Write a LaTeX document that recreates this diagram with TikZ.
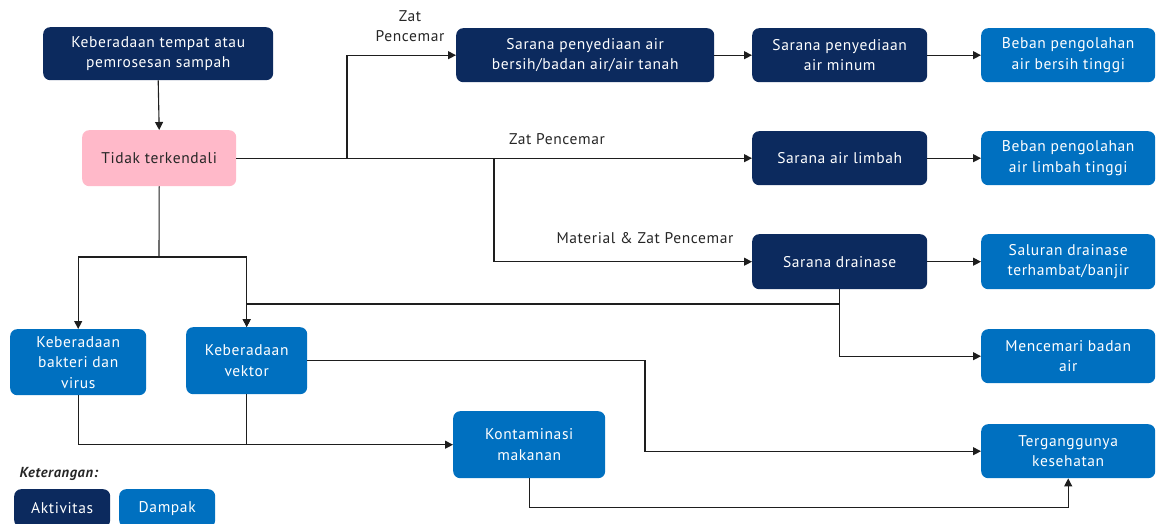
\documentclass[tikz,border=0pt]{standalone}
\usepackage{fontspec}
\setmainfont[LetterSpace=4]{PT Sans}
\usetikzlibrary{arrows.meta}
\definecolor{navy}{RGB}{12,42,94}
\definecolor{impact}{RGB}{0,112,192}
\definecolor{pinkbox}{RGB}{255,185,201}
\definecolor{linec}{RGB}{30,30,30}
\begin{document}
\begin{tikzpicture}[x=1pt,y=-1pt,
  box/.style={anchor=north west,rounded corners=7pt,inner sep=0pt,align=center,
    font=\fontsize{15.5}{20.5}\selectfont,text=white},
  act/.style={box,fill=navy},
  imp/.style={box,fill=impact},
  arr/.style={draw=linec,line width=1.1pt,-{Triangle[length=8pt,width=8pt]}},
  ln/.style={draw=linec,line width=1.1pt},
  lbl/.style={font=\fontsize{15.5}{20.5}\selectfont,text=black!85,align=center}]
\useasboundingbox (0,0) rectangle (1156,524);
\node[act,minimum width=230pt,minimum height=53pt] (a) at (43,27) {Keberadaan tempat atau\\pemrosesan sampah};
\node[box,fill=pinkbox,text=black!85,minimum width=154pt,minimum height=56pt] (b) at (82,130) {Tidak terkendali};
\node[act,minimum width=258pt,minimum height=54pt] (c) at (456,28) {Sarana penyediaan air\\bersih/badan air/air tanah};
\node[act,minimum width=175pt,minimum height=54pt] (d) at (752,28) {Sarana penyediaan\\air minum};
\node[imp,minimum width=174pt,minimum height=54pt] (e) at (981,28) {Beban pengolahan\\air bersih tinggi};
\node[act,minimum width=175pt,minimum height=54pt] (f) at (752,131) {Sarana air limbah};
\node[imp,minimum width=174pt,minimum height=54pt] (g) at (981,131) {Beban pengolahan\\air limbah tinggi};
\node[act,minimum width=175pt,minimum height=55pt] (h) at (752,234) {Sarana drainase};
\node[imp,minimum width=174pt,minimum height=55pt] (i) at (981,234) {Saluran drainase\\terhambat/banjir};
\node[imp,minimum width=174pt,minimum height=54pt] (j) at (981,329) {Mencemari badan\\air};
\node[imp,minimum width=174pt,minimum height=54pt] (k) at (981,424) {Terganggunya\\kesehatan};
\node[imp,minimum width=136pt,minimum height=66pt] (l) at (10,329) {Keberadaan\\bakteri dan\\virus};
\node[imp,minimum width=121pt,minimum height=67pt] (m) at (186,327) {Keberadaan\\vektor};
\node[imp,minimum width=152pt,minimum height=67pt] (n) at (453,411) {Kontaminasi\\makanan};
% legend
\node[anchor=west,font=\fontsize{14.5}{16}\selectfont\bfseries\itshape,text=black!85] (kt) at (16,474) {Keterangan:};
\node[act,minimum width=96pt,minimum height=38pt] (la) at (14,489) {Aktivitas};
\node[imp,minimum width=96pt,minimum height=38pt] (lb) at (119,489) {Dampak};
% labels
\node[lbl] (z1) at (410,26) {Zat\\Pencemar};
\node[lbl] (z2) at (557,139) {Zat Pencemar};
\node[lbl] (z3) at (645,238) {Material \& Zat Pencemar};
% junction coordinates
\coordinate (j1) at (347,158);
\coordinate (j2) at (494,158);
\coordinate (t1) at (159,257);
\coordinate (dv) at (840,304);
\coordinate (v1) at (645,0);
% connectors
\draw[arr] (a.south) -- (b.north);
\draw[arr] (b.east) -- (f.west);
\draw[arr] (j1) |- (c.west);
\draw[arr] (j2) |- (h.west);
\draw[arr] (c.east) -- (d.west);
\draw[arr] (d.east) -- (e.west);
\draw[arr] (f.east) -- (g.west);
\draw[arr] (h.east) -- (i.west);
\draw[ln] (b.south) -- (t1);
\draw[arr] (t1) -| (l.north);
\draw[arr] (t1) -| (m.north);
\draw[arr] (h.south) |- (j.west);
\draw[arr] (h.south |- dv) -| (m.north);
\draw[arr] (m.east) -- (m.east -| v1) |- (k.west);
\draw[arr] (l.south) |- (n.west);
\draw[ln] (m.south) -- (m.south |- n.west);
\draw[arr] (n.south) -- ++(0,29) -| (k.south);
\end{tikzpicture}
\end{document}
